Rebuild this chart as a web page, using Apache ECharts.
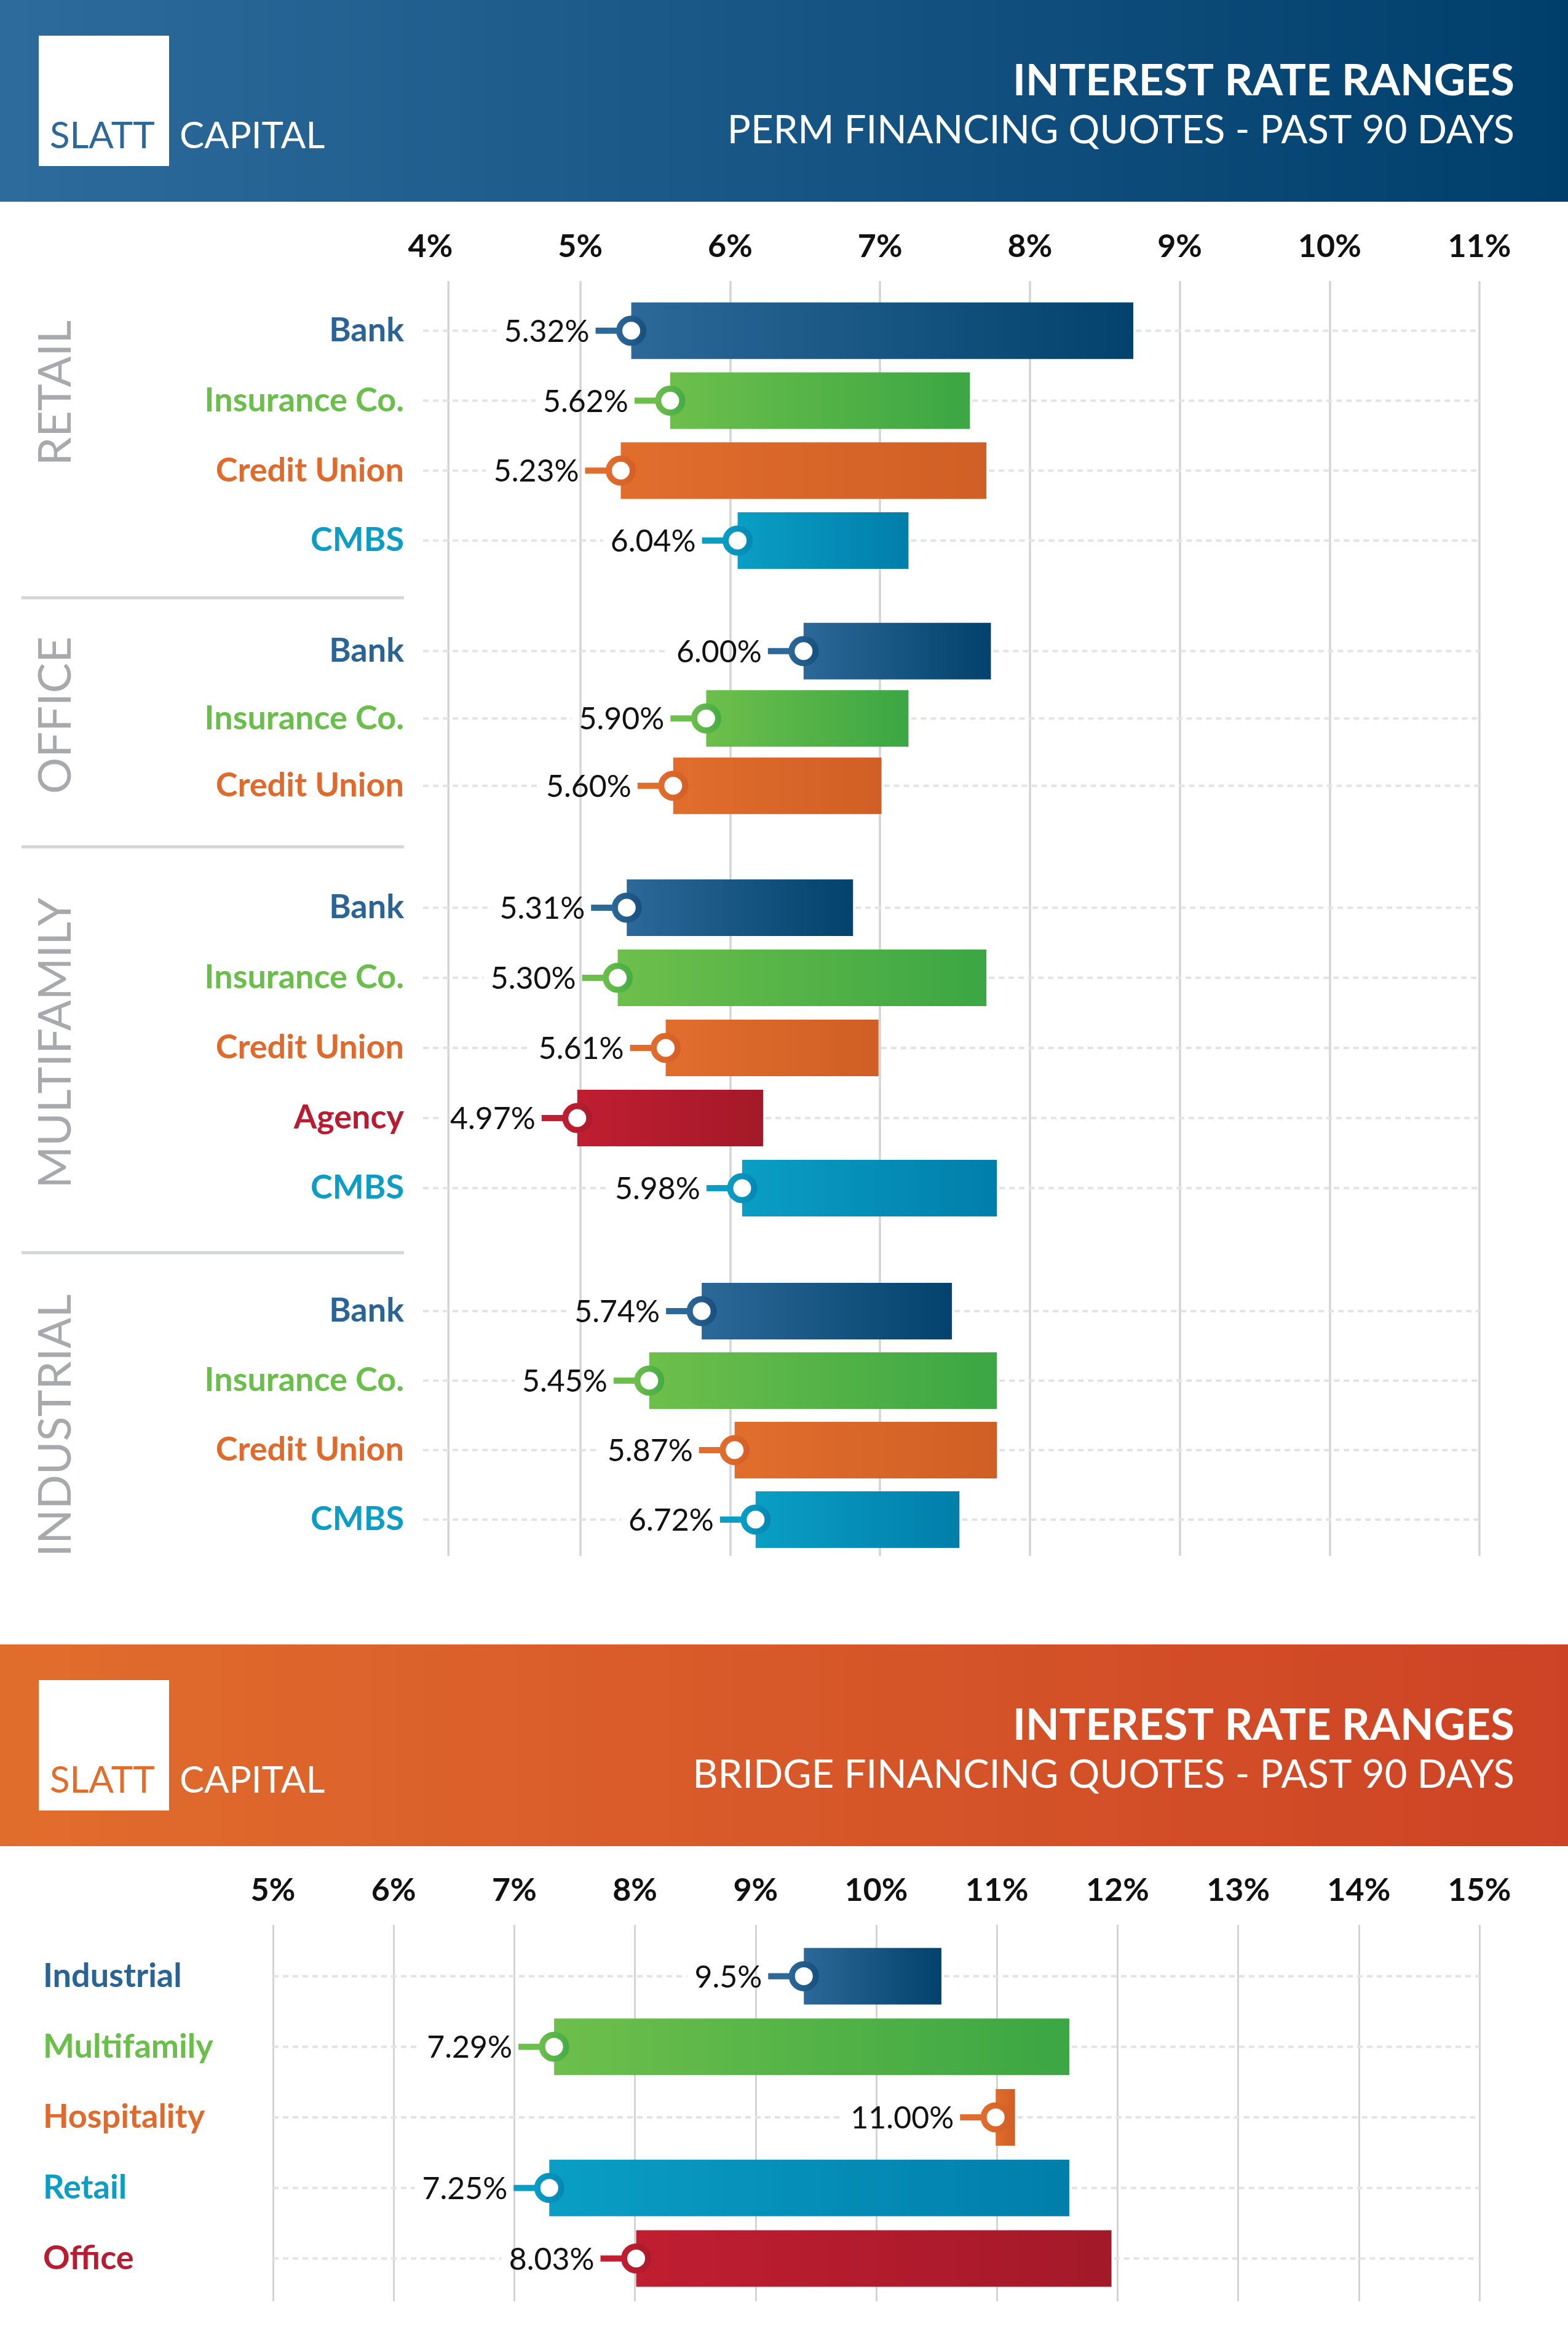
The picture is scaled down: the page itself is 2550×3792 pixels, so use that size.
<!DOCTYPE html>
<html>
<head>
<meta charset="utf-8">
<script src="https://cdn.jsdelivr.net/npm/echarts@6/dist/echarts.min.js"></script>
<style>
html,body{margin:0;padding:0;background:#ffffff;}
#chart{width:2550px;height:3792px;}
</style>
</head>
<body>
<div id="chart"></div>
<script>
// ===================== DATA =====================
// Perm financing (percent). low = where the bar starts, high = where it ends,
// lowLabels = the rate printed beside the start marker.
const permAxisMin = 4, permAxisMax = 11, permPlotStart = 4.12;
const bridgeAxisMin = 5, bridgeAxisMax = 15;

const retailLenders = ['Bank', 'Insurance Co.', 'Credit Union', 'CMBS'];
const retailLow = [5.34, 5.60, 5.27, 6.05];
const retailHigh = [8.69, 7.60, 7.71, 7.19];
const retailLowLabels = ['5.32%', '5.62%', '5.23%', '6.04%'];

const officeLenders = ['Bank', 'Insurance Co.', 'Credit Union'];
const officeLow = [6.49, 5.84, 5.62];
const officeHigh = [7.74, 7.19, 7.01];
const officeLowLabels = ['6.00%', '5.90%', '5.60%'];

const multifamilyLenders = ['Bank', 'Insurance Co.', 'Credit Union', 'Agency', 'CMBS'];
const multifamilyLow = [5.31, 5.25, 5.57, 4.98, 6.08];
const multifamilyHigh = [6.82, 7.71, 6.99, 6.22, 7.78];
const multifamilyLowLabels = ['5.31%', '5.30%', '5.61%', '4.97%', '5.98%'];

const industrialLenders = ['Bank', 'Insurance Co.', 'Credit Union', 'CMBS'];
const industrialLow = [5.81, 5.46, 6.03, 6.17];
const industrialHigh = [7.48, 7.78, 7.78, 7.53];
const industrialLowLabels = ['5.74%', '5.45%', '5.87%', '6.72%'];

// Bridge financing
const bridgeTypes = ['Industrial', 'Multifamily', 'Hospitality', 'Retail', 'Office'];
const bridgeLow = [9.40, 7.33, 10.99, 7.29, 8.01];
const bridgeHigh = [10.54, 11.60, 11.15, 11.60, 11.95];
const bridgeLowLabels = ['9.5%', '7.29%', '11.00%', '7.25%', '8.03%'];

// ===================== STYLE =====================
const FONT = 'Lato';
const GRID_COLOR = '#d4d4d4';
const DOT_COLOR = '#e4e4e4';
const SECTION_GREY = '#a7a9ac';
const PALETTE = {
  blue:   {a: '#2c6898', b: '#02426c', ring: '#174f7d', text: '#2a6496'},
  green:  {a: '#6dbf4b', b: '#3ba643', ring: '#44ab45', text: '#6abf4b'},
  orange: {a: '#e16d2d', b: '#d05f25', ring: '#d45f27', text: '#e06a2c'},
  teal:   {a: '#0a9ec4', b: '#007eaa', ring: '#0586b3', text: '#0b9dc4'},
  red:    {a: '#c01e31', b: '#a31929', ring: '#a91b2b', text: '#b91c30'}
};
const lenderColor = {'Bank': 'blue', 'Insurance Co.': 'green', 'Credit Union': 'orange', 'CMBS': 'teal', 'Agency': 'red'};
const bridgeColor = {'Industrial': 'blue', 'Multifamily': 'green', 'Hospitality': 'orange', 'Retail': 'teal', 'Office': 'red'};
const richKey = {'Bank': 'blue', 'Insurance Co.': 'green', 'Credit Union': 'orange', 'CMBS': 'teal', 'Agency': 'red',
  'Industrial': 'blue', 'Multifamily': 'green', 'Hospitality': 'orange', 'Retail': 'teal', 'Office': 'red'};

const VALUE_FONT_SIZE = 50;
const BAR_H = 92;

const _ctx = document.createElement('canvas').getContext('2d');
function textWidth(t) { _ctx.font = 'normal ' + VALUE_FONT_SIZE + 'px ' + FONT; return _ctx.measureText(t).width; }

function grad(c1, c2) {
  return new echarts.graphic.LinearGradient(0, 0, 1, 0, [{offset: 0, color: c1}, {offset: 1, color: c2}]);
}

function makeRenderer(names, labels, colorMap, extLeft) {
  return function (params, api) {
    const i = params.dataIndex;
    const low = api.value(0), high = api.value(1), cat = api.value(2);
    const p0 = api.coord([low, cat]);
    const p1 = api.coord([high, cat]);
    const cs = params.coordSys;
    const y = p0[1];
    const pal = PALETTE[colorMap[names[i]]];
    const text = labels[i];
    const labelRight = p0[0] - 68;
    const labelLeft = labelRight - textWidth(text);
    const dot = {stroke: DOT_COLOR, lineWidth: 4, lineDash: [9, 7]};
    const children = [];
    const lx1 = cs.x - extLeft, lx2 = labelLeft - 12;
    if (lx2 > lx1) children.push({type: 'line', shape: {x1: lx1, y1: y, x2: lx2, y2: y}, style: dot});
    const rx1 = p1[0] + 4, rx2 = cs.x + cs.width;
    if (rx2 > rx1) children.push({type: 'line', shape: {x1: rx1, y1: y, x2: rx2, y2: y}, style: dot});
    children.push({type: 'rect', shape: {x: p0[0], y: y - BAR_H / 2, width: p1[0] - p0[0], height: BAR_H},
      style: {fill: grad(pal.a, pal.b)}});
    children.push({type: 'rect', shape: {x: p0[0] - 58, y: y - 5, width: 40, height: 10}, style: {fill: pal.a}});
    children.push({type: 'circle', shape: {cx: p0[0], cy: y, r: 19.5},
      style: {fill: '#ffffff', stroke: grad(pal.a, pal.ring), lineWidth: 10}});
    children.push({type: 'text', style: {x: labelRight, y: y + 2, text: text, align: 'right', verticalAlign: 'middle',
      fontSize: VALUE_FONT_SIZE, fontFamily: FONT, fontWeight: 'normal', fill: '#111111'}});
    return {type: 'group', children: children};
  };
}

const richStyles = {};
Object.keys(PALETTE).forEach(function (k) {
  richStyles[k] = {color: PALETTE[k].text, fontSize: 54, fontWeight: 'bold', fontFamily: FONT};
});

// ===================== LAYOUT =====================
const PLEFT = 700, PRIGHT = 144;
const permSections = [
  {title: 'RETAIL', names: retailLenders, low: retailLow, high: retailHigh, labels: retailLowLabels, top: 481, pitch: 113.7, titleY: 639},
  {title: 'OFFICE', names: officeLenders, low: officeLow, high: officeHigh, labels: officeLowLabels, top: 1004, pitch: 109.5, titleY: 1163},
  {title: 'MULTIFAMILY', names: multifamilyLenders, low: multifamilyLow, high: multifamilyHigh, labels: multifamilyLowLabels, top: 1419, pitch: 114, titleY: 1696},
  {title: 'INDUSTRIAL', names: industrialLenders, low: industrialLow, high: industrialHigh, labels: industrialLowLabels, top: 2075.5, pitch: 113, titleY: 2318}
];

const grids = [], xAxes = [], yAxes = [], series = [];

// perm background grid (tick labels + vertical grid lines)
grids.push({left: PLEFT, right: PRIGHT, top: 457, height: 2073});
xAxes.push({gridIndex: 0, type: 'value', position: 'top', min: permAxisMin, max: permAxisMax, interval: 1,
  axisLine: {show: false}, axisTick: {show: false},
  axisLabel: {formatter: '{value}%', fontSize: 52, fontWeight: 'bold', fontFamily: FONT, color: '#111111', margin: 30},
  splitLine: {show: true, showMinLine: false, lineStyle: {color: GRID_COLOR, width: 3.5}}});
yAxes.push({gridIndex: 0, type: 'value', min: 0, max: 1, show: false});
series.push({type: 'custom', xAxisIndex: 0, yAxisIndex: 0, data: [[permPlotStart]], silent: true,
  renderItem: function (params, api) {
    const x = api.coord([api.value(0), 0])[0];
    const cs = params.coordSys;
    return {type: 'line', shape: {x1: x, y1: cs.y, x2: x, y2: cs.y + cs.height}, style: {stroke: GRID_COLOR, lineWidth: 3.5}};
  }});

permSections.forEach(function (s) {
  const gi = grids.length;
  grids.push({left: PLEFT, right: PRIGHT, top: s.top, height: s.pitch * s.names.length});
  xAxes.push({gridIndex: gi, type: 'value', min: permAxisMin, max: permAxisMax, show: false, splitLine: {show: false}});
  yAxes.push({gridIndex: gi, type: 'category', inverse: true, data: s.names,
    axisLine: {show: false}, axisTick: {show: false}, splitLine: {show: false},
    axisLabel: {margin: 43, formatter: function (v) { return '{' + richKey[v] + '|' + v + '}'; }, rich: richStyles}});
  series.push({type: 'custom', xAxisIndex: gi, yAxisIndex: gi, encode: {x: [0, 1], y: 2}, silent: true,
    data: s.low.map(function (l, i) { return [l, s.high[i], i]; }),
    renderItem: makeRenderer(s.names, s.labels, lenderColor, 12)});
});

// bridge background grid
const BLEFT = 444, BRIGHT = 144;
const bgi = grids.length;
grids.push({left: BLEFT, right: BRIGHT, top: 3130, height: 612});
xAxes.push({gridIndex: bgi, type: 'value', position: 'top', min: bridgeAxisMin, max: bridgeAxisMax, interval: 1,
  axisLine: {show: false}, axisTick: {show: false},
  axisLabel: {formatter: '{value}%', fontSize: 52, fontWeight: 'bold', fontFamily: FONT, color: '#111111', margin: 30},
  splitLine: {show: true, lineStyle: {color: GRID_COLOR, width: 3}}});
yAxes.push({gridIndex: bgi, type: 'value', min: 0, max: 1, show: false});

const bri = grids.length;
grids.push({left: BLEFT, right: BRIGHT, top: 3156, height: 114.75 * bridgeTypes.length});
xAxes.push({gridIndex: bri, type: 'value', min: bridgeAxisMin, max: bridgeAxisMax, show: false, splitLine: {show: false}});
yAxes.push({gridIndex: bri, type: 'category', inverse: true, data: bridgeTypes,
  axisLine: {show: false}, axisTick: {show: false}, splitLine: {show: false},
  axisLabel: {margin: 374, align: 'left', formatter: function (v) { return '{' + richKey[v] + '|' + v + '}'; }, rich: richStyles}});
series.push({type: 'custom', xAxisIndex: bri, yAxisIndex: bri, encode: {x: [0, 1], y: 2}, silent: true,
  data: bridgeLow.map(function (l, i) { return [l, bridgeHigh[i], i]; }),
  renderItem: makeRenderer(bridgeTypes, bridgeLowLabels, bridgeColor, 0)});

// ===================== GRAPHICS (headers, section titles, separators) =====================
function header(offsetY, c1, c2, logoColor, subtitle) {
  return [
    {type: 'rect', z: 0, shape: {x: 0, y: offsetY, width: 2550, height: 328}, style: {fill: grad(c1, c2)}},
    {type: 'rect', z: 1, shape: {x: 63, y: offsetY + 58, width: 212, height: 212}, style: {fill: '#ffffff'}},
    {type: 'text', z: 2, style: {x: 81, y: offsetY + 222, text: 'SLATT', verticalAlign: 'middle', align: 'left',
      fontSize: 60, fontFamily: FONT, fill: logoColor}},
    {type: 'text', z: 2, style: {x: 292, y: offsetY + 222, text: 'CAPITAL', verticalAlign: 'middle', align: 'left',
      fontSize: 60, fontFamily: FONT, fill: '#ffffff'}},
    {type: 'text', z: 2, style: {x: 2463, y: offsetY + 132, text: 'INTEREST RATE RANGES', verticalAlign: 'middle', align: 'right',
      fontSize: 71, fontWeight: 'bold', fontFamily: FONT, fill: '#ffffff'}},
    {type: 'text', z: 2, style: {x: 2463, y: offsetY + 213, text: subtitle, verticalAlign: 'middle', align: 'right',
      fontSize: 63.5, fontFamily: FONT, fill: '#ffffff'}}
  ];
}

const graphics = [].concat(
  header(0, '#2d6b9c', '#003f6c', '#2c6898', 'PERM FINANCING QUOTES - PAST 90 DAYS'),
  header(2674, '#e16d2d', '#cd4325', '#e16d2d', 'BRIDGE FINANCING QUOTES - PAST 90 DAYS')
);
permSections.forEach(function (s) {
  graphics.push({type: 'text', x: 91, y: s.titleY, rotation: Math.PI / 2,
    style: {x: 0, y: 0, text: s.title, align: 'center', verticalAlign: 'middle', fontSize: 74, fontFamily: FONT, fill: SECTION_GREY}});
});
[972, 1377, 2037].forEach(function (yy) {
  graphics.push({type: 'line', shape: {x1: 35, y1: yy, x2: 657, y2: yy}, style: {stroke: '#d4d5d6', lineWidth: 5}});
});

const chart = echarts.init(document.getElementById('chart'), null, {renderer: 'canvas'});
chart.setOption({
  backgroundColor: '#ffffff',
  animation: false,
  grid: grids,
  xAxis: xAxes,
  yAxis: yAxes,
  series: series,
  graphic: {elements: graphics}
});
</script>
</body>
</html>
